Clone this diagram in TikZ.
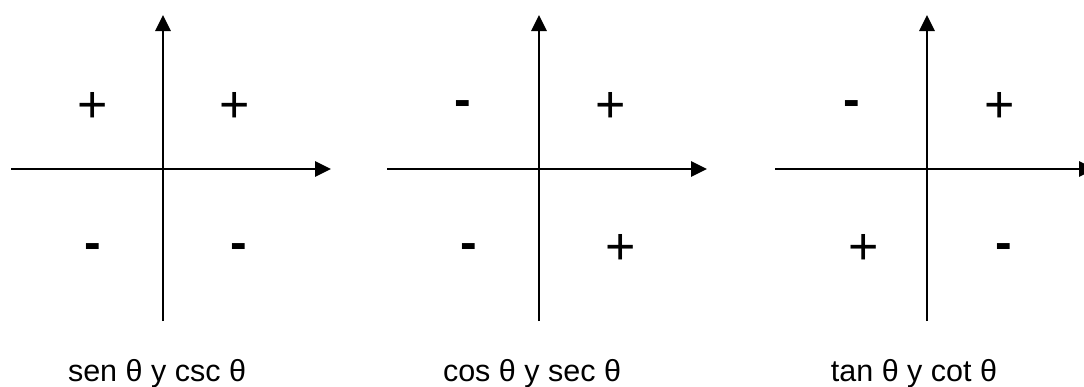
\documentclass[tikz,border=0pt]{standalone}
\usepackage{fontspec}
\setmainfont{Liberation Sans}
\usetikzlibrary{arrows.meta}
\tikzset{
  axis/.style={line width=2.8pt, -{Triangle[length=16pt,width=15pt]}},
  plussign/.style={inner sep=0pt, anchor=base, yshift=-18.4pt, font=\fontsize{52}{52}\selectfont},
  minussign/.style={inner sep=0pt, anchor=base, yshift=-12.5pt, font=\bfseries\fontsize{50}{50}\selectfont},
  caption/.style={inner sep=0pt, anchor=base, font=\fontsize{30.5}{36}\selectfont}
}
\begin{document}
\begin{tikzpicture}[x=1pt,y=-1pt]
\clip (0,0) rectangle (1084,386);
\fill[white] (0,0) rectangle (1084,386);
% figure 1
\coordinate (a1l) at (11,169);
\coordinate (a1r) at (331,169);
\coordinate (a1b) at (163,321);
\coordinate (a1t) at (163,15);
\draw[axis] (a1l) -- (a1r);
\draw[axis] (a1b) -- (a1t);
\node[plussign] (s11) at (92.5,104.5) {+};
\node[plussign] (s12) at (235,104.5) {+};
\node[minussign] (s13) at (93,246.5) {-};
\node[minussign] (s14) at (239,246.5) {-};
\node[caption] (c1) at (157,381) {sen θ y csc θ};
% figure 2
\coordinate (a2l) at (387,169);
\coordinate (a2r) at (707,169);
\coordinate (a2b) at (539,321);
\coordinate (a2t) at (539,15);
\draw[axis] (a2l) -- (a2r);
\draw[axis] (a2b) -- (a2t);
\node[minussign] (s21) at (463,104) {-};
\node[plussign] (s22) at (611,104) {+};
\node[minussign] (s23) at (469,246.5) {-};
\node[plussign] (s24) at (621,246) {+};
\node[caption] (c2) at (532,381) {cos θ y sec θ};
% figure 3
\coordinate (a3l) at (775,169);
\coordinate (a3r) at (1095,169);
\coordinate (a3b) at (927,321);
\coordinate (a3t) at (927,15);
\draw[axis] (a3l) -- (a3r);
\draw[axis] (a3b) -- (a3t);
\node[minussign] (s31) at (852,104) {-};
\node[plussign] (s32) at (999.5,104) {+};
\node[plussign] (s33) at (863.5,246) {+};
\node[minussign] (s34) at (1003.5,246.5) {-};
\node[caption] (c3) at (914,381) {tan θ y cot θ};
\end{tikzpicture}
\end{document}
